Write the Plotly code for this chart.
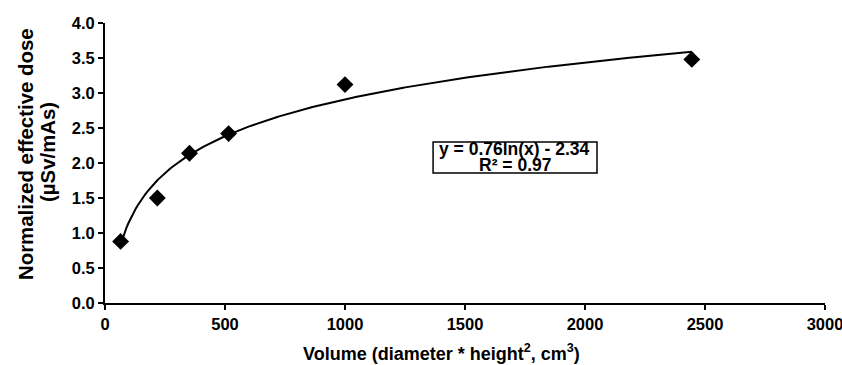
import numpy as np
import plotly.graph_objects as go

volume = [65, 218, 352, 515, 1000, 2445]
dose = [0.88, 1.50, 2.14, 2.42, 3.12, 3.48]
fit_a = 0.76
fit_b = -2.34
r2 = 0.97
x_ticks = [0, 500, 1000, 1500, 2000, 2500, 3000]
y_ticks = [0.0, 0.5, 1.0, 1.5, 2.0, 2.5, 3.0, 3.5, 4.0]

xf = np.linspace(min(volume), max(volume), 300)
yf = fit_a * np.log(xf) + fit_b

font = "Liberation Sans"
bold = dict(family=font, color="black", weight="bold")

fig = go.Figure()
fig.add_trace(go.Scatter(x=xf, y=yf, mode="lines",
                         line=dict(color="black", width=2), showlegend=False))
fig.add_trace(go.Scatter(x=volume, y=dose, mode="markers",
                         marker=dict(symbol="diamond", size=13, color="black"),
                         showlegend=False))

# equation box
fig.add_shape(type="rect", xref="x", yref="y", x0=1367, x1=2050, y0=1.857, y1=2.30,
              line=dict(color="black", width=1.5), fillcolor="white", layer="above")
fig.add_annotation(x=1708, y=2.195, xref="x", yref="y",
                   text=f"y = {fit_a:.2f}ln(x) - {abs(fit_b):.2f}",
                   showarrow=False, font=dict(size=17.5, **bold))
fig.add_annotation(x=1708, y=1.978, xref="x", yref="y",
                   text=f"R² = {r2:.2f}",
                   showarrow=False, font=dict(size=17.5, **bold))

# axis titles
fig.add_annotation(x=(441 - 105) / 720, y=(303 - 352) / 280, xref="paper", yref="paper",
                   text="Volume (diameter * height<sup>2</sup>, cm<sup>3</sup>)",
                   showarrow=False, xanchor="center", yanchor="middle",
                   font=dict(size=18, **bold))
fig.add_annotation(x=(26 - 105) / 720, y=(303 - 154) / 280, xref="paper", yref="paper",
                   text="Normalized effective dose", textangle=-90,
                   showarrow=False, xanchor="center", yanchor="middle",
                   font=dict(size=20.4, **bold))
fig.add_annotation(x=(48 - 105) / 720, y=(303 - 152) / 280, xref="paper", yref="paper",
                   text="(µSv/mAs)", textangle=-90,
                   showarrow=False, xanchor="center", yanchor="middle",
                   font=dict(size=20.4, **bold))

fig.update_layout(
    width=842, height=365,
    margin=dict(l=105, r=17, t=23, b=62),
    paper_bgcolor="white", plot_bgcolor="white",
    font=dict(family=font, color="black"),
)
fig.update_xaxes(range=[0, 3000], tickvals=x_ticks, ticktext=[str(v) for v in x_ticks],
                 showgrid=False, zeroline=False, showline=True, linecolor="black", linewidth=2,
                 ticks="outside", ticklen=5, tickwidth=2, tickcolor="black",
                 ticklabeloverflow="allow", automargin=False,
                 tickfont=dict(size=16.5, **bold))
fig.update_yaxes(range=[0, 4.0], tickvals=y_ticks, ticktext=[f"{v:.1f}" for v in y_ticks],
                 showgrid=False, zeroline=False, showline=True, linecolor="black", linewidth=2,
                 ticks="outside", ticklen=5, tickwidth=2, tickcolor="black",
                 automargin=False,
                 tickfont=dict(size=16.5, **bold))

fig.write_html("out.html", config={"displayModeBar": False},
               post_script="document.body.style.margin='0';")
